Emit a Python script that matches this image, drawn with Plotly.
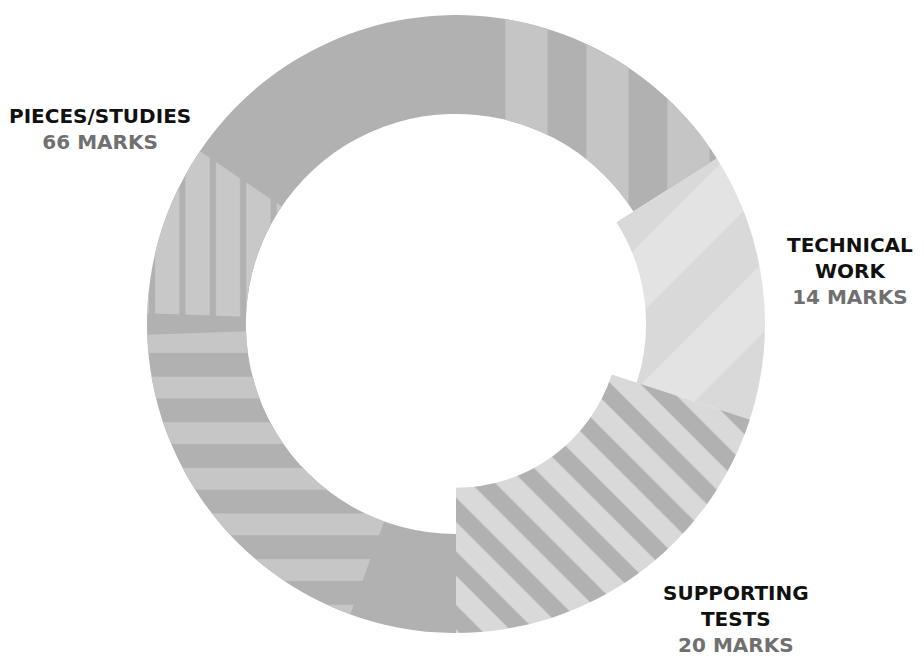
import plotly.graph_objects as go

# ---------------- data ----------------
categories = ["PIECES/STUDIES", "TECHNICAL WORK", "SUPPORTING TESTS"]
marks = [66, 14, 20]
label_titles = ["PIECES/STUDIES", "TECHNICAL<br>WORK", "SUPPORTING<br>TESTS"]
label_units = "MARKS"

# ---------------- layout constants ----------------
W, H = 924, 659
CX, CY, R = 456, 324, 309          # donut centre / outer radius in px
dom_x = [(CX - R) / W, (CX + R) / W]
dom_y = [1 - (CY + R) / H, 1 - (CY - R) / H]

START = 180                        # first slice (Pieces) starts at 6 o'clock, clockwise
holes = [0.68, 0.615, 0.53]
base_colors = ["#b1b1b1", "#e3e3e3", "#d9d9d9"]
pat_shape = ["", "/", "\\"]
pat_fg = ["#b1b1b1", "#d9d9d9", "#b1b1b1"]
pat_bg = ["#b1b1b1", "#e3e3e3", "#d9d9d9"]
pat_size = [10, 100, 38]
pat_sol = [0.5, 0.5, 0.45]

T = "rgba(0,0,0,0)"
fig = go.Figure()

for i in range(len(marks)):
    colors = [T] * len(marks)
    colors[i] = base_colors[i]
    shapes = [""] * len(marks)
    shapes[i] = pat_shape[i]
    fig.add_trace(go.Pie(
        values=marks, labels=categories, sort=False, direction="clockwise",
        rotation=START, hole=holes[i], domain=dict(x=dom_x, y=dom_y),
        textinfo="none", showlegend=False, hoverinfo="skip",
        marker=dict(colors=colors, line=dict(width=0),
                    pattern=dict(shape=shapes, fgcolor=pat_fg, bgcolor=pat_bg,
                                 size=pat_size, solidity=pat_sol, fillmode="replace")),
    ))

# decorative stripe bands inside the Pieces/Studies ring (style only)
pieces_end = (START + 360 * marks[0] / sum(marks)) % 360
decor = [
    # (start angle, end angle, shape, fg colour, size, solidity)
    (9, pieces_end, "|", "#c5c5c5", 81, 0.52),
    (272, 304, "|", "#c8c8c8", 30.4, 0.8),
    (200, 268, "-", "#c6c6c6", 45.6, 0.48),
]
for a0, a1, shp, fg, sz, sol in decor:
    span = (a1 - a0) % 360
    fig.add_trace(go.Pie(
        values=[span, 360 - span], sort=False, direction="clockwise",
        rotation=a0, hole=holes[0], domain=dict(x=dom_x, y=dom_y),
        textinfo="none", showlegend=False, hoverinfo="skip",
        marker=dict(colors=[T, T], line=dict(width=0),
                    pattern=dict(shape=[shp, ""], fgcolor=[fg, T], bgcolor=[T, T],
                                 size=[sz, 10], solidity=[sol, 0.5], fillmode="replace")),
    ))

# ---------------- labels ----------------
label_pos = [(100, 129), (850, 271), (736, 619)]   # px centres
for (lx, ly), title, v in zip(label_pos, label_titles, marks):
    fig.add_annotation(
        x=lx / W, y=1 - ly / H, xref="paper", yref="paper",
        xanchor="center", yanchor="middle", align="center", showarrow=False,
        text=f"<b>{title}</b><br><span style='color:#707070'><b>{v} {label_units}</b></span>",
        font=dict(family="DejaVu Sans", size=20, color="#111111"),
    )

fig.update_layout(
    width=W, height=H, margin=dict(l=0, r=0, t=0, b=0),
    paper_bgcolor="white", plot_bgcolor="white",
)
fig.write_html("out.html")
